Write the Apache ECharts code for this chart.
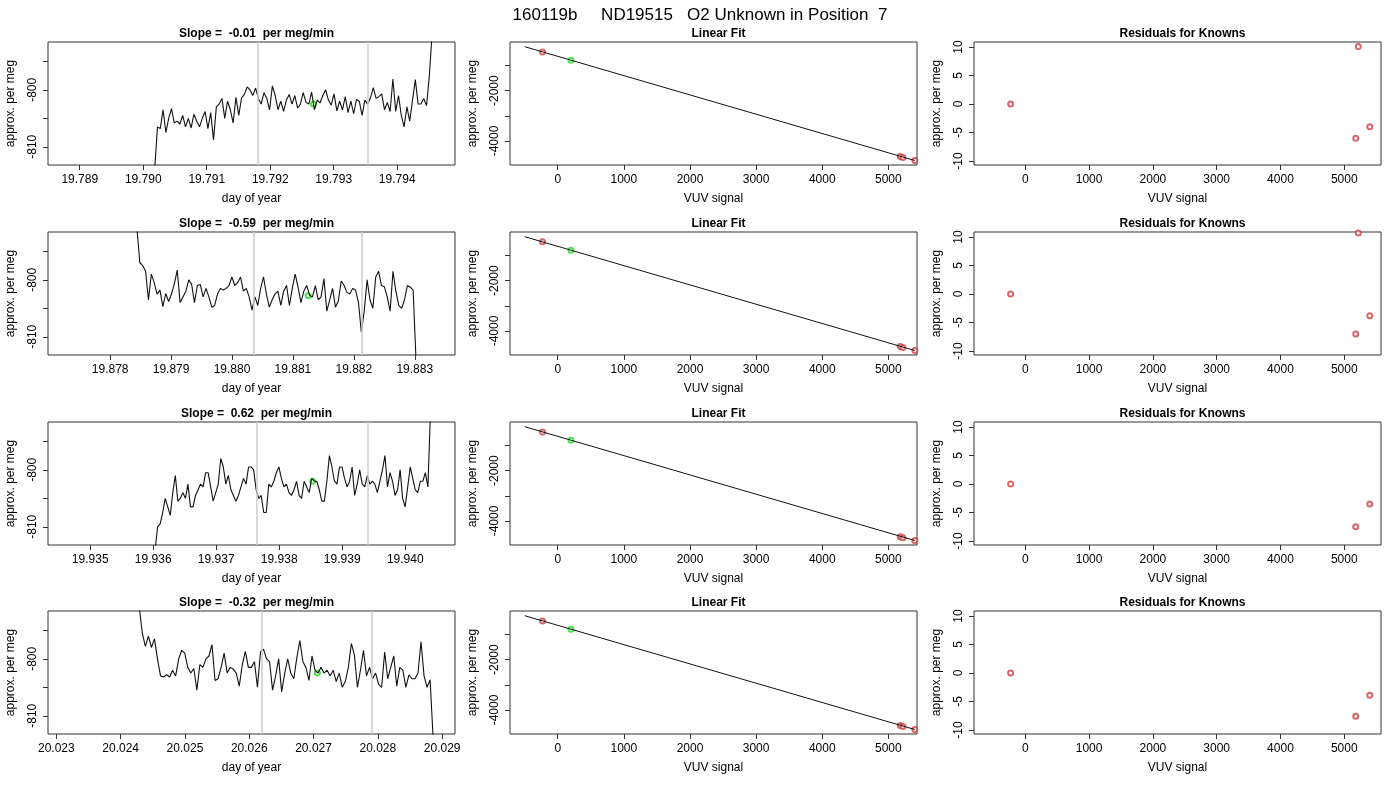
<!DOCTYPE html>
<html>
<head>
<meta charset="utf-8">
<script src="https://cdn.jsdelivr.net/npm/echarts@6/dist/echarts.min.js"></script>
<style>
  html, body { margin: 0; background: #fff; }
  #chart { width: 1400px; height: 800px; }
</style>
</head>
<body>
<div id="chart"></div>
<script>
const mainTitle = '160119b     ND19515   O2 Unknown in Position  7';
const slopes = ['-0.01', '-0.59', '0.62', '-0.32'];

// time window of each run (day of year) and where the trace starts/ends
const xMin = [19.78850, 19.87698, 19.93433, 20.02287];
const xMax = [19.79491, 19.88366, 19.94079, 20.02920];
const xTicks = [
  [19.789, 19.790, 19.791, 19.792, 19.793, 19.794],
  [19.878, 19.879, 19.880, 19.881, 19.882, 19.883],
  [19.935, 19.936, 19.937, 19.938, 19.939, 19.940],
  [20.023, 20.024, 20.025, 20.026, 20.027, 20.028, 20.029]
];
const traceStart = [19.79018, 19.87844, 19.93603, 20.02429];
const traceEnd = [19.79455, 19.88302, 19.94040, 20.02886];
const grayLines = [
  [19.79180, 19.79354],
  [19.88035, 19.88213],
  [19.93765, 19.93941],
  [20.02620, 20.02791]
];
const greenPoint = [
  [19.79268, -802.5],
  [19.88125, -802.8],
  [19.93853, -802.0],
  [20.02706, -802.5]
];

const trace1 = [-814, -806.5, -806.8, -803.5, -807.5, -805, -803.3, -805.8, -805.5, -806,
  -804.5, -806.5, -805, -806.7, -804.3, -805.5, -806.5, -805, -803.8, -806.8,
  -804, -808.8, -803, -802.5, -801.5, -805, -802, -803.5, -805.8, -801.3,
  -804.5, -801.4, -800.8, -799.5, -800, -801, -799.7, -801.5, -802.5, -800.5,
  -801.5, -803.5, -799.3, -801, -803.5, -802, -803.8, -801.8, -800.8, -802.5,
  -801, -803.2, -802.5, -800.5, -802.2, -802.5, -800.4, -803.5, -801.8, -802.3,
  -801, -800, -801.8, -802.7, -800.7, -803.7, -802, -803.5, -801.2, -804,
  -802, -804.2, -801.7, -802, -804.5, -801.8, -802.5, -801.4, -799.6, -801.5,
  -801.2, -800.7, -803.5, -802.2, -803.8, -798.1, -803.8, -801, -804.5, -806.5,
  -803, -805.5, -801.8, -798.2, -802.5, -802.5, -801.5, -802.8, -797.5, -790];
const trace2 = [-791, -797, -797.5, -798.5, -803.5, -799, -800.5, -802.5, -801.8, -804.7,
  -802.4, -803.8, -802.5, -800.7, -798.3, -804, -803, -802, -800, -800.8,
  -804, -801, -800.8, -803, -801.5, -803, -804.8, -804.5, -802.5, -801.5,
  -801.8, -801.5, -801, -799.5, -801, -800.5, -799.5, -802, -801.5, -803,
  -805.3, -803, -804.5, -801.5, -799.5, -802.5, -804.8, -803.5, -802.5, -802,
  -804.5, -802, -801, -804.5, -801.5, -799, -801.3, -804, -802, -801,
  -802.7, -803, -801, -803.5, -803, -799.8, -805.5, -803.5, -801.5, -804.8,
  -803.7, -800.2, -801, -802.2, -802.5, -801.5, -801.8, -804, -809.2, -805.5,
  -800, -803.5, -805, -799.5, -798.5, -801, -801.2, -803, -805.5, -798.5,
  -802, -804.5, -805, -803.5, -801, -801.3, -801.8, -814];
const trace3 = [-814, -810, -809.5, -807.5, -805, -806.5, -808, -804, -801, -805.5,
  -805, -804, -805, -802.5, -806.5, -806.5, -804.5, -803.5, -802.5, -803,
  -800.5, -800.5, -803, -805.5, -804, -802.5, -798, -799.5, -802.5, -801,
  -803.5, -804.5, -805.5, -804.5, -803, -801.5, -802.5, -799.5, -799.5, -800,
  -803.5, -805, -804.5, -807.5, -807.5, -802.5, -803, -802, -800.5, -799.5,
  -801.5, -803, -802.5, -804, -804.5, -803.5, -802, -804.5, -805, -802,
  -803, -804, -801.5, -802, -802, -803.5, -805.5, -805.5, -802, -797.5,
  -799.5, -802, -802.5, -799.5, -799.5, -801.5, -803, -802, -799.5, -804.5,
  -802.5, -800, -802.5, -803, -801, -802.5, -802, -802.5, -804, -802,
  -800, -797.5, -803, -800.5, -802, -804.5, -803.5, -800, -805, -806.5,
  -803, -799.5, -801.5, -803.5, -804, -802, -802, -800.5, -803, -790];
const trace4 = [-791, -795.5, -797.8, -796, -798, -796.5, -800, -803, -803.2, -802.8,
  -803.2, -802, -803, -800, -798.5, -799, -801.5, -802.5, -801.7, -805.5,
  -801, -801.5, -800, -799.5, -797.5, -803.8, -803.5, -801.5, -799, -802.5,
  -801.5, -801.8, -802.5, -804.8, -801, -798.7, -801.5, -801.5, -800.5, -805,
  -798.8, -798.3, -800, -800.5, -805.5, -803, -800, -805.8, -802.5, -800,
  -802.5, -803.5, -799.8, -796.8, -800.5, -801.5, -803.8, -799.5, -802, -802.5,
  -801.5, -802.5, -802, -803, -802, -804, -802.5, -805, -804, -801.5,
  -797.3, -799.3, -805, -802, -798.5, -803, -801.5, -803.5, -802.5, -804.5,
  -805, -798.8, -803.5, -801.5, -799.5, -804.8, -801.5, -802, -805, -802.8,
  -803.5, -803.5, -802.5, -797, -803, -805, -803.7, -814];
const traces = [trace1, trace2, trace3, trace4];

// linear fit panels
const knownX = [-230, 5180, 5220, 5400];
const knownY = [
  [-458, -4620, -4660, -4775],
  [-455, -4615, -4655, -4772],
  [-460, -4622, -4662, -4778],
  [-457, -4618, -4658, -4774]
];
const unknownX = [200, 200, 200, 200];
const unknownY = [-788, -790, -786, -789];
const fitLineX = [-500, 5400];
const fitLineY = [-250, -4776];

// residuals
const residX = [-230, 5220, 5180, 5400];
const residY = [
  [0, 10.1, -6.0, -4.0],
  [0, 10.7, -7.0, -3.8],
  [0, 11.6, -7.5, -3.5],
  [0, 11.7, -7.6, -3.9]
];

const colLeft = [48, 510, 974];
const rowTop = [42, 232, 422, 611];
const gW = 407, gH = 123;
const FONT = 'Liberation Sans';
const red = '#cd4040';
const green = '#22dd22';

const grids = [], xAxes = [], yAxes = [], series = [], titles = [];
titles.push({ text: mainTitle, left: 'center', top: 2,
  textStyle: { fontFamily: FONT, fontSize: 17, fontWeight: 'normal', color: '#000' } });

function axisCommon() {
  return {
    axisLine: { show: false, onZero: false },
    splitLine: { show: false },
    axisTick: { show: true, length: 5, lineStyle: { color: '#333' } },
    axisLabel: { color: '#000', fontFamily: FONT, fontSize: 12 },
    nameTextStyle: { color: '#000', fontFamily: FONT, fontSize: 12 },
    nameLocation: 'middle'
  };
}

function addPanel(row, col, title, xo, yo) {
  const idx = grids.length;
  grids.push({ left: colLeft[col], top: rowTop[row], width: gW, height: gH,
    show: true, borderColor: '#333', borderWidth: 1, backgroundColor: 'transparent' });
  titles.push({ text: title, left: colLeft[col] + gW / 2, textAlign: 'center', top: rowTop[row] - 19,
    textStyle: { fontFamily: FONT, fontSize: 12, fontWeight: 'bold', color: '#000' } });
  const xa = axisCommon();
  Object.assign(xa, { type: 'value', gridIndex: idx, position: 'bottom', min: xo.min, max: xo.max,
    name: xo.name, nameGap: 28 });
  xa.axisLabel = Object.assign(xa.axisLabel, { customValues: xo.ticks, margin: 9, formatter: xo.fmt });
  xa.axisTick.customValues = xo.ticks;
  xAxes.push(xa);
  const ya = axisCommon();
  Object.assign(ya, { type: 'value', gridIndex: idx, position: 'left', min: yo.min, max: yo.max,
    name: 'approx. per meg', nameGap: 31 });
  ya.axisLabel = Object.assign(ya.axisLabel, { customValues: yo.labels, rotate: 90, margin: 9,
    formatter: v => String(v) });
  ya.axisTick.customValues = yo.ticks;
  yAxes.push(ya);
  return idx;
}

for (let r = 0; r < 4; r++) {
  // time series panel
  let i = addPanel(r, 0, 'Slope =  ' + slopes[r] + '  per meg/min',
    { min: xMin[r], max: xMax[r], ticks: xTicks[r], name: 'day of year', fmt: v => v.toFixed(3) },
    { min: -813.2, max: -791.6, ticks: [-810, -805, -800, -795], labels: [-810, -800] });
  const tr = traces[r];
  const step = (traceEnd[r] - traceStart[r]) / (tr.length - 1);
  series.push({ type: 'line', xAxisIndex: i, yAxisIndex: i, symbol: 'none', clip: true,
    lineStyle: { color: '#111', width: 1.1 },
    data: tr.map((v, k) => [traceStart[r] + k * step, v]),
    markLine: { silent: true, symbol: 'none', precision: 6, label: { show: false },
      lineStyle: { color: '#cccccc', width: 1.5, type: 'solid' },
      data: grayLines[r].map(v => ({ xAxis: v })) } });
  series.push({ type: 'scatter', xAxisIndex: i, yAxisIndex: i, symbol: 'emptyCircle', symbolSize: 5,
    itemStyle: { color: green, borderWidth: 1 }, data: [greenPoint[r]] });

  // linear fit panel
  i = addPanel(r, 1, 'Linear Fit',
    { min: -722, max: 5433, ticks: [0, 1000, 2000, 3000, 4000, 5000], name: 'VUV signal', fmt: v => String(v) },
    { min: -4954, max: -64, ticks: [-4000, -3000, -2000, -1000], labels: [-4000, -2000] });
  series.push({ type: 'line', xAxisIndex: i, yAxisIndex: i, symbol: 'none',
    lineStyle: { color: '#111', width: 1 }, data: fitLineX.map((x, k) => [x, fitLineY[k]]) });
  series.push({ type: 'scatter', xAxisIndex: i, yAxisIndex: i, symbol: 'emptyCircle', symbolSize: 5,
    itemStyle: { color: red, borderWidth: 1 }, data: knownX.map((x, k) => [x, knownY[r][k]]) });
  series.push({ type: 'scatter', xAxisIndex: i, yAxisIndex: i, symbol: 'emptyCircle', symbolSize: 5,
    itemStyle: { color: green, borderWidth: 1 }, data: [[unknownX[r], unknownY[r]]] });

  // residuals panel
  i = addPanel(r, 2, 'Residuals for Knowns',
    { min: -804, max: 5576, ticks: [0, 1000, 2000, 3000, 4000, 5000], name: 'VUV signal', fmt: v => String(v) },
    { min: -10.7, max: 10.88, ticks: [-10, -5, 0, 5, 10], labels: [-10, -5, 0, 5, 10] });
  series.push({ type: 'scatter', xAxisIndex: i, yAxisIndex: i, symbol: 'emptyCircle', symbolSize: 5, clip: true,
    itemStyle: { color: red, borderWidth: 1 }, data: residX.map((x, k) => [x, residY[r][k]]) });
}

const chart = echarts.init(document.getElementById('chart'));
chart.setOption({
  animation: false,
  backgroundColor: '#fff',
  title: titles,
  grid: grids,
  xAxis: xAxes,
  yAxis: yAxes,
  series: series
});
</script>
</body>
</html>
